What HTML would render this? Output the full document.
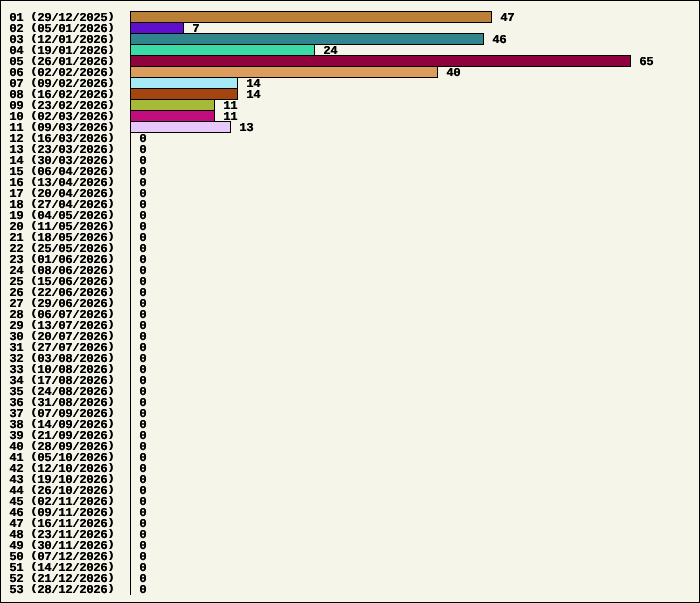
<!DOCTYPE html>
<html><head><meta charset="utf-8"><title>Chart</title>
<style>
html,body{margin:0;padding:0;background:#F5F5EA;}
#c{position:relative;width:698px;height:601px;border:1px solid #000;background:#F5F5EA;overflow:hidden;
font-family:"Liberation Mono",monospace;font-weight:bold;font-size:12.15px;letter-spacing:-0.290px;color:#000;line-height:11px;
text-rendering:geometricPrecision;text-shadow:0.4px 0 0 #000;}
#ax{position:absolute;left:129px;top:10px;width:1px;height:584px;background:#000;}
.r{position:absolute;left:0;width:698px;height:12px;}
.l{position:absolute;left:8.16px;top:2px;height:11px;white-space:pre;z-index:2;}
.b{position:absolute;left:129px;top:0;height:10px;border:1px solid #000;z-index:1;}
.v{position:absolute;top:2px;height:11px;white-space:pre;z-index:2;}
i,b{display:inline-block;width:7px;font-style:normal;font-weight:bold;transform-origin:50% 100%;}
i{transform:translateY(-3px) scaleY(0.8);}
b{transform:translateY(0px) scaleY(0.9);}
</style></head><body><div id="c"><div id="ax"></div>

<div class="r" style="top:10px"><span class="l">01 <i>(</i>29<b>/</b>12<b>/</b>2025<i>)</i></span><div class="b" style="width:360px;background:#BA8038"></div><span class="v" style="left:499.16px">47</span></div>
<div class="r" style="top:21px"><span class="l">02 <i>(</i>05<b>/</b>01<b>/</b>2026<i>)</i></span><div class="b" style="width:52px;background:#6010CC"></div><span class="v" style="left:191.16px">7</span></div>
<div class="r" style="top:32px"><span class="l">03 <i>(</i>12<b>/</b>01<b>/</b>2026<i>)</i></span><div class="b" style="width:352px;background:#30868C"></div><span class="v" style="left:491.16px">46</span></div>
<div class="r" style="top:43px"><span class="l">04 <i>(</i>19<b>/</b>01<b>/</b>2026<i>)</i></span><div class="b" style="width:183px;background:#3CDAA6"></div><span class="v" style="left:322.16px">24</span></div>
<div class="r" style="top:54px"><span class="l">05 <i>(</i>26<b>/</b>01<b>/</b>2026<i>)</i></span><div class="b" style="width:499px;background:#90023E"></div><span class="v" style="left:638.16px">65</span></div>
<div class="r" style="top:65px"><span class="l">06 <i>(</i>02<b>/</b>02<b>/</b>2026<i>)</i></span><div class="b" style="width:306px;background:#DC9C5C"></div><span class="v" style="left:445.16px">40</span></div>
<div class="r" style="top:76px"><span class="l">07 <i>(</i>09<b>/</b>02<b>/</b>2026<i>)</i></span><div class="b" style="width:106px;background:#A6EAF8"></div><span class="v" style="left:245.16px">14</span></div>
<div class="r" style="top:87px"><span class="l">08 <i>(</i>16<b>/</b>02<b>/</b>2026<i>)</i></span><div class="b" style="width:106px;background:#A4440E"></div><span class="v" style="left:245.16px">14</span></div>
<div class="r" style="top:98px"><span class="l">09 <i>(</i>23<b>/</b>02<b>/</b>2026<i>)</i></span><div class="b" style="width:83px;background:#A6BA3A"></div><span class="v" style="left:222.16px">11</span></div>
<div class="r" style="top:109px"><span class="l">10 <i>(</i>02<b>/</b>03<b>/</b>2026<i>)</i></span><div class="b" style="width:83px;background:#C20E7C"></div><span class="v" style="left:222.16px">11</span></div>
<div class="r" style="top:120px"><span class="l">11 <i>(</i>09<b>/</b>03<b>/</b>2026<i>)</i></span><div class="b" style="width:99px;background:#E6C8FA"></div><span class="v" style="left:238.16px">13</span></div>
<div class="r" style="top:131px"><span class="l">12 <i>(</i>16<b>/</b>03<b>/</b>2026<i>)</i></span><span class="v" style="left:138.16px">0</span></div>
<div class="r" style="top:142px"><span class="l">13 <i>(</i>23<b>/</b>03<b>/</b>2026<i>)</i></span><span class="v" style="left:138.16px">0</span></div>
<div class="r" style="top:153px"><span class="l">14 <i>(</i>30<b>/</b>03<b>/</b>2026<i>)</i></span><span class="v" style="left:138.16px">0</span></div>
<div class="r" style="top:164px"><span class="l">15 <i>(</i>06<b>/</b>04<b>/</b>2026<i>)</i></span><span class="v" style="left:138.16px">0</span></div>
<div class="r" style="top:175px"><span class="l">16 <i>(</i>13<b>/</b>04<b>/</b>2026<i>)</i></span><span class="v" style="left:138.16px">0</span></div>
<div class="r" style="top:186px"><span class="l">17 <i>(</i>20<b>/</b>04<b>/</b>2026<i>)</i></span><span class="v" style="left:138.16px">0</span></div>
<div class="r" style="top:197px"><span class="l">18 <i>(</i>27<b>/</b>04<b>/</b>2026<i>)</i></span><span class="v" style="left:138.16px">0</span></div>
<div class="r" style="top:208px"><span class="l">19 <i>(</i>04<b>/</b>05<b>/</b>2026<i>)</i></span><span class="v" style="left:138.16px">0</span></div>
<div class="r" style="top:219px"><span class="l">20 <i>(</i>11<b>/</b>05<b>/</b>2026<i>)</i></span><span class="v" style="left:138.16px">0</span></div>
<div class="r" style="top:230px"><span class="l">21 <i>(</i>18<b>/</b>05<b>/</b>2026<i>)</i></span><span class="v" style="left:138.16px">0</span></div>
<div class="r" style="top:241px"><span class="l">22 <i>(</i>25<b>/</b>05<b>/</b>2026<i>)</i></span><span class="v" style="left:138.16px">0</span></div>
<div class="r" style="top:252px"><span class="l">23 <i>(</i>01<b>/</b>06<b>/</b>2026<i>)</i></span><span class="v" style="left:138.16px">0</span></div>
<div class="r" style="top:263px"><span class="l">24 <i>(</i>08<b>/</b>06<b>/</b>2026<i>)</i></span><span class="v" style="left:138.16px">0</span></div>
<div class="r" style="top:274px"><span class="l">25 <i>(</i>15<b>/</b>06<b>/</b>2026<i>)</i></span><span class="v" style="left:138.16px">0</span></div>
<div class="r" style="top:285px"><span class="l">26 <i>(</i>22<b>/</b>06<b>/</b>2026<i>)</i></span><span class="v" style="left:138.16px">0</span></div>
<div class="r" style="top:296px"><span class="l">27 <i>(</i>29<b>/</b>06<b>/</b>2026<i>)</i></span><span class="v" style="left:138.16px">0</span></div>
<div class="r" style="top:307px"><span class="l">28 <i>(</i>06<b>/</b>07<b>/</b>2026<i>)</i></span><span class="v" style="left:138.16px">0</span></div>
<div class="r" style="top:318px"><span class="l">29 <i>(</i>13<b>/</b>07<b>/</b>2026<i>)</i></span><span class="v" style="left:138.16px">0</span></div>
<div class="r" style="top:329px"><span class="l">30 <i>(</i>20<b>/</b>07<b>/</b>2026<i>)</i></span><span class="v" style="left:138.16px">0</span></div>
<div class="r" style="top:340px"><span class="l">31 <i>(</i>27<b>/</b>07<b>/</b>2026<i>)</i></span><span class="v" style="left:138.16px">0</span></div>
<div class="r" style="top:351px"><span class="l">32 <i>(</i>03<b>/</b>08<b>/</b>2026<i>)</i></span><span class="v" style="left:138.16px">0</span></div>
<div class="r" style="top:362px"><span class="l">33 <i>(</i>10<b>/</b>08<b>/</b>2026<i>)</i></span><span class="v" style="left:138.16px">0</span></div>
<div class="r" style="top:373px"><span class="l">34 <i>(</i>17<b>/</b>08<b>/</b>2026<i>)</i></span><span class="v" style="left:138.16px">0</span></div>
<div class="r" style="top:384px"><span class="l">35 <i>(</i>24<b>/</b>08<b>/</b>2026<i>)</i></span><span class="v" style="left:138.16px">0</span></div>
<div class="r" style="top:395px"><span class="l">36 <i>(</i>31<b>/</b>08<b>/</b>2026<i>)</i></span><span class="v" style="left:138.16px">0</span></div>
<div class="r" style="top:406px"><span class="l">37 <i>(</i>07<b>/</b>09<b>/</b>2026<i>)</i></span><span class="v" style="left:138.16px">0</span></div>
<div class="r" style="top:417px"><span class="l">38 <i>(</i>14<b>/</b>09<b>/</b>2026<i>)</i></span><span class="v" style="left:138.16px">0</span></div>
<div class="r" style="top:428px"><span class="l">39 <i>(</i>21<b>/</b>09<b>/</b>2026<i>)</i></span><span class="v" style="left:138.16px">0</span></div>
<div class="r" style="top:439px"><span class="l">40 <i>(</i>28<b>/</b>09<b>/</b>2026<i>)</i></span><span class="v" style="left:138.16px">0</span></div>
<div class="r" style="top:450px"><span class="l">41 <i>(</i>05<b>/</b>10<b>/</b>2026<i>)</i></span><span class="v" style="left:138.16px">0</span></div>
<div class="r" style="top:461px"><span class="l">42 <i>(</i>12<b>/</b>10<b>/</b>2026<i>)</i></span><span class="v" style="left:138.16px">0</span></div>
<div class="r" style="top:472px"><span class="l">43 <i>(</i>19<b>/</b>10<b>/</b>2026<i>)</i></span><span class="v" style="left:138.16px">0</span></div>
<div class="r" style="top:483px"><span class="l">44 <i>(</i>26<b>/</b>10<b>/</b>2026<i>)</i></span><span class="v" style="left:138.16px">0</span></div>
<div class="r" style="top:494px"><span class="l">45 <i>(</i>02<b>/</b>11<b>/</b>2026<i>)</i></span><span class="v" style="left:138.16px">0</span></div>
<div class="r" style="top:505px"><span class="l">46 <i>(</i>09<b>/</b>11<b>/</b>2026<i>)</i></span><span class="v" style="left:138.16px">0</span></div>
<div class="r" style="top:516px"><span class="l">47 <i>(</i>16<b>/</b>11<b>/</b>2026<i>)</i></span><span class="v" style="left:138.16px">0</span></div>
<div class="r" style="top:527px"><span class="l">48 <i>(</i>23<b>/</b>11<b>/</b>2026<i>)</i></span><span class="v" style="left:138.16px">0</span></div>
<div class="r" style="top:538px"><span class="l">49 <i>(</i>30<b>/</b>11<b>/</b>2026<i>)</i></span><span class="v" style="left:138.16px">0</span></div>
<div class="r" style="top:549px"><span class="l">50 <i>(</i>07<b>/</b>12<b>/</b>2026<i>)</i></span><span class="v" style="left:138.16px">0</span></div>
<div class="r" style="top:560px"><span class="l">51 <i>(</i>14<b>/</b>12<b>/</b>2026<i>)</i></span><span class="v" style="left:138.16px">0</span></div>
<div class="r" style="top:571px"><span class="l">52 <i>(</i>21<b>/</b>12<b>/</b>2026<i>)</i></span><span class="v" style="left:138.16px">0</span></div>
<div class="r" style="top:582px"><span class="l">53 <i>(</i>28<b>/</b>12<b>/</b>2026<i>)</i></span><span class="v" style="left:138.16px">0</span></div>
</div></body></html>
